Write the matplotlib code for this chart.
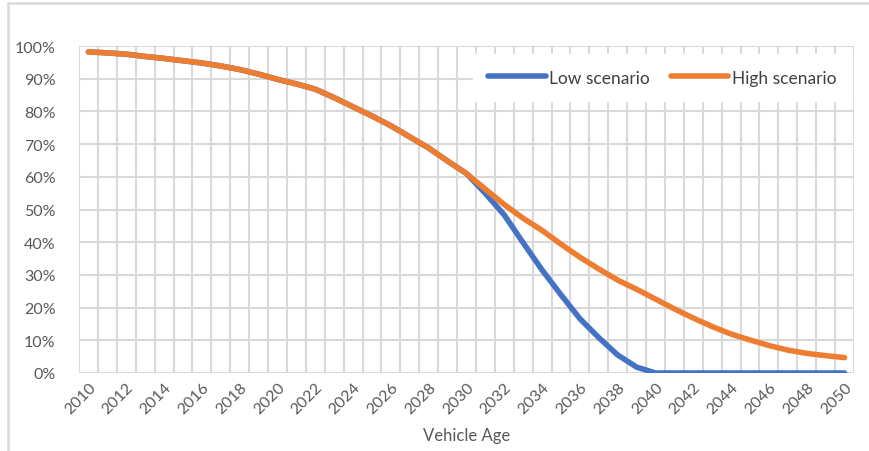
import matplotlib.pyplot as plt
import numpy as np
from matplotlib.patches import Rectangle

years = list(range(2010, 2051))
high_scenario = [98.2, 97.9, 97.5, 96.8, 96.2, 95.5, 94.8, 93.9, 92.8, 91.4,
                 89.8, 88.4, 86.8, 84.2, 81.4, 78.6, 75.6, 72.2, 68.8, 64.8,
                 61.0, 56.2, 51.5, 47.3, 43.6, 39.4, 35.4, 31.8, 28.4, 25.6,
                 22.6, 19.6, 16.8, 14.2, 11.9, 10.1, 8.4, 7.0, 6.0, 5.3, 4.7]
low_scenario = [98.2, 97.9, 97.5, 96.8, 96.2, 95.5, 94.8, 93.9, 92.8, 91.4,
                89.8, 88.4, 86.8, 84.2, 81.4, 78.6, 75.6, 72.2, 68.8, 64.8,
                61.0, 54.9, 48.3, 39.8, 31.5, 23.9, 16.6, 10.8, 5.5, 1.8,
                0, 0, 0, 0, 0, 0, 0, 0, 0, 0, 0]
yticks = list(range(0, 101, 10))
x_label = "Vehicle Age"

plt.rcParams['font.family'] = ['Lato', 'DejaVu Sans']
W, H = 869, 452
fig = plt.figure(figsize=(W / 100, H / 100), dpi=100)
grid_c = '#D9D9D9'
text_c = '#595959'

# outer chart border (cut off at right/bottom in the reference)
fig.patches.append(Rectangle((8 / W, -0.1), 1.2, 1 - 4 / H + 0.1, transform=fig.transFigure,
                             fill=False, edgecolor=grid_c, linewidth=1.8))

ax = fig.add_axes([79 / W, (H - 374) / H, (854 - 79) / W, (374 - 47) / H])
idx = np.arange(len(years))
ax.plot(idx, low_scenario, color='#4472C4', lw=4.0, solid_capstyle='round',
        solid_joinstyle='round', label='Low scenario', zorder=3)
ax.plot(idx, high_scenario, color='#ED7D31', lw=4.0, solid_capstyle='round',
        solid_joinstyle='round', label='High scenario', zorder=4)

ax.set_xlim(-0.5, len(years) - 0.5)
ax.set_ylim(0, 100)
ax.set_yticks(yticks)
ax.set_yticklabels([f'{v}%' for v in yticks], fontsize=11.5, color=text_c)
ax.set_xticks(idx[::2])
ax.set_xticklabels([str(y) for y in years[::2]], fontsize=11.5, color=text_c,
                   rotation=45, ha='right', rotation_mode='anchor')
ax.tick_params(axis='y', length=0, pad=17)
ax.tick_params(axis='x', length=0, pad=5)
for v in yticks:
    ax.axhline(v, color=grid_c, lw=1.5, zorder=1)
for b in np.arange(-0.5, len(years), 1):
    ax.axvline(b, color=grid_c, lw=1.5, zorder=1)
for s in ax.spines.values():
    s.set_visible(False)
ax.set_xlabel(x_label, fontsize=12, color=text_c, labelpad=8)

leg = ax.legend(loc='upper right', bbox_to_anchor=(0.997, 0.975), ncol=2, frameon=True,
                fontsize=12.5, handlelength=3.3, columnspacing=1.2, handletextpad=0.2,
                borderpad=0.9, borderaxespad=0.0, handleheight=0.8)
leg.get_frame().set_edgecolor('white')
leg.get_frame().set_facecolor('white')
leg.get_frame().set_alpha(1)
leg.get_frame().set_boxstyle('square', pad=0)
for t in leg.get_texts():
    t.set_color('#404040')

fig.savefig('out.png', dpi=100)
